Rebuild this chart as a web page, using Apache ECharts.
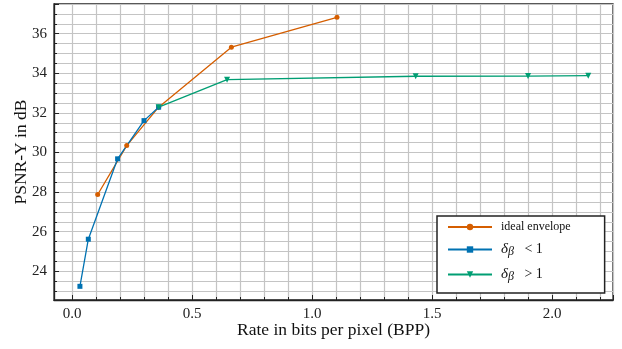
<!DOCTYPE html>
<html>
<head>
<meta charset="utf-8">
<script src="https://cdn.jsdelivr.net/npm/echarts@6/dist/echarts.min.js"></script>
<style>
  html, body { margin: 0; padding: 0; background: #fff; }
  #chart { width: 622px; height: 349px; }
</style>
</head>
<body>
<div id="chart"></div>
<script>
// values
var idealX = [0.107, 0.228, 0.361, 0.664, 1.104]
var idealY = [27.88, 30.35, 32.29, 35.32, 36.83]
var lowX = [0.033, 0.068, 0.19, 0.30, 0.361]
var lowY = [23.24, 25.62, 29.68, 31.61, 32.29]
var highX = [0.361, 0.646, 1.432, 1.90, 2.151]
var highY = [32.29, 33.68, 33.85, 33.86, 33.88]
var seriesNames = ['ideal envelope', 'δβ < 1', 'δβ > 1']

function pairs(xs, ys) {
  return xs.map(function (x, i) { return [x, ys[i]] })
}

var serif = '"Liberation Serif", "DejaVu Serif", serif'
var gridStyle = { color: '#c4c4c4', width: 1.2 }

var chart = echarts.init(document.getElementById('chart'))

function line(name, data, color, symbol, size) {
  return {
    name: name,
    type: 'line',
    data: data,
    symbol: symbol,
    symbolSize: size,
    showSymbol: true,
    color: color,
    lineStyle: { color: color, width: 1.3 },
    itemStyle: { color: color },
    z: 5
  }
}

var option = {
  animation: false,
  backgroundColor: '#fff',
  textStyle: { fontFamily: serif },
  grid: {
    left: 54, right: 9, top: 4, bottom: 49,
    outerBoundsMode: 'none',
    containLabel: false,
    show: true, borderColor: '#222', borderWidth: 1.3
  },
  legend: {
    orient: 'vertical',
    left: 437,
    top: 216,
    padding: [5, 34, 10, 10],
    itemGap: 9,
    itemWidth: 44,
    itemHeight: 8,
    backgroundColor: '#fff',
    borderColor: '#222',
    borderWidth: 1.5,
    borderRadius: 0,
    data: seriesNames,
    formatter: function (name) {
      if (name === seriesNames[0]) return name
      var rest = name.slice(2)
      return '{d|δ}{b|β}{r|' + rest.replace('<', '  <').replace('>', '  >') + '}'
    },
    textStyle: {
      fontFamily: serif,
      fontSize: 12,
      color: '#111',
      padding: [0, 0, 0, 4],
      rich: {
        d: { fontFamily: serif, fontStyle: 'italic', fontSize: 15, color: '#111' },
        b: { fontFamily: serif, fontStyle: 'italic', fontSize: 12, color: '#111', verticalAlign: 'bottom', padding: [5, 0, 0, 0] },
        r: { fontFamily: serif, fontSize: 14, color: '#111' }
      }
    }
  },
  xAxis: {
    type: 'value',
    min: -0.075,
    max: 2.254,
    minInterval: 0.5,
    maxInterval: 0.5,
    name: 'Rate in bits per pixel (BPP)',
    nameLocation: 'middle',
    nameGap: 21,
    nameMoveOverlap: false,
    nameTextStyle: { fontFamily: serif, fontSize: 17.5, color: '#111' },
    axisLine: { onZero: false, lineStyle: { color: '#222', width: 1.3 } },
    axisTick: { inside: true, length: 5, lineStyle: { color: '#222' } },
    minorTick: { show: true, splitNumber: 5, length: 3, lineStyle: { color: '#222' } },
    axisLabel: {
      showMinLabel: false,
      showMaxLabel: false,
      fontFamily: serif,
      fontSize: 15,
      color: '#222',
      margin: 7,
      formatter: function (v) { return v.toFixed(1) }
    },
    splitLine: { show: true, lineStyle: gridStyle },
    minorSplitLine: { show: true, lineStyle: gridStyle }
  },
  yAxis: {
    type: 'value',
    min: 22.55,
    max: 37.5,
    minInterval: 2,
    maxInterval: 2,
    name: 'PSNR-Y in dB',
    nameLocation: 'middle',
    nameGap: 24,
    nameMoveOverlap: false,
    nameTextStyle: { fontFamily: serif, fontSize: 17.5, color: '#111' },
    axisLine: { show: true, onZero: false, lineStyle: { color: '#222', width: 1.3 } },
    axisTick: { show: true, inside: true, length: 5, lineStyle: { color: '#222' } },
    minorTick: { show: true, splitNumber: 4, length: 3, lineStyle: { color: '#222' } },
    axisLabel: {
      showMinLabel: false,
      showMaxLabel: false,
      fontFamily: serif,
      fontSize: 15,
      color: '#222',
      margin: 7
    },
    splitLine: { show: true, lineStyle: gridStyle },
    minorSplitLine: { show: true, lineStyle: gridStyle }
  },
  series: [
    line(seriesNames[0], pairs(idealX, idealY), '#D55E00', 'circle', 5),
    line(seriesNames[1], pairs(lowX, lowY), '#0072B2', 'rect', 5),
    line(seriesNames[2], pairs(highX, highY), '#009E73', 'triangle', 6)
  ]
}

// downward triangles for the last series
option.series[2].symbolRotate = 180

chart.setOption(option)
</script>
</body>
</html>
